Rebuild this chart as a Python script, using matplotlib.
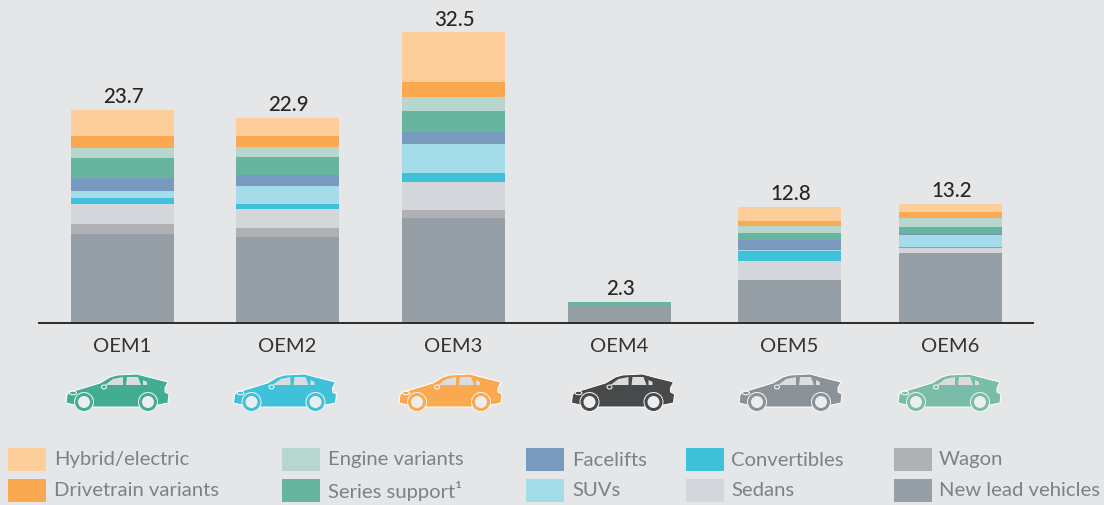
#!/usr/bin/env python3

import matplotlib
matplotlib.use("Agg")
import matplotlib.pyplot as plt
from matplotlib.patches import Rectangle, Polygon, Circle, Ellipse

W, H = 1104, 505
BG = "#E5E6E8"

oems = ["OEM1", "OEM2", "OEM3", "OEM4", "OEM5", "OEM6"]
totals = [23.7, 22.9, 32.5, 2.3, 12.8, 13.2]

# stack order, bottom to top
new_lead = [9.87, 9.53, 11.66, 1.91, 4.71, 7.74]
wagon = [1.12, 1.01, 0.90, 0, 0, 0]
sedans = [2.24, 2.24, 3.14, 0, 2.24, 0.56]
convertibles = [0.78, 0.56, 1.01, 0, 1.12, 0.11]
suvs = [0.78, 1.91, 3.25, 0, 0.11, 1.35]
facelifts = [1.46, 1.23, 1.38, 0, 1.12, 0.22]
series_support = [2.24, 2.02, 2.32, 0.39, 0.78, 0.78]
engine = [1.12, 1.23, 1.57, 0, 0.78, 0.90]
drivetrain = [1.35, 1.23, 1.68, 0, 0.56, 0.78]
hybrid = [2.90, 1.95, 5.61, 0, 1.56, 0.85]

stack = [
    (new_lead, "#979FA6"),
    (wagon, "#B0B1B4"),
    (sedans, "#D3D6DA"),
    (convertibles, "#3FC1DA"),
    (suvs, "#A5DCEA"),
    (facelifts, "#799ABF"),
    (series_support, "#67B59F"),
    (engine, "#B7D7CE"),
    (drivetrain, "#FBA950"),
    (hybrid, "#FECE9A"),
]

centers = [122.5, 287.5, 453.5, 619.5, 789.5, 950.5]
car_centers = [118, 285.5, 451, 623.5, 791, 950]
car_colors = ["#43AD94", "#3FC1DA", "#FBA950", "#48494B", "#8A9298", "#79BDA8"]

legend_items = [
    ("Hybrid/electric", "#FECE9A", 8, 448, 54),
    ("Drivetrain variants", "#FBA950", 8, 479, 54),
    ("Engine variants", "#B7D7CE", 282, 448, 328),
    ("Series support¹", "#67B59F", 282, 479, 328),
    ("Facelifts", "#799ABF", 526, 448, 572),
    ("SUVs", "#A5DCEA", 526, 479, 572),
    ("Convertibles", "#3FC1DA", 686, 448, 731),
    ("Sedans", "#D3D6DA", 686, 479, 731),
    ("Wagon", "#B0B1B4", 894, 448, 939),
    ("New lead vehicles", "#979FA6", 894, 479, 939),
]

# car outline relative to the icon centre, in pixels (y down)
car_body = [(-52, 11), (-51, 3), (-49, 0), (-41, -2), (-18, -9), (-8, -15),
            (-1, -17), (19, -18), (30, -15), (50, -10), (47, -4), (47, 0),
            (51, 2), (50, 11), (30, 15), (-18, 15), (-35, 15)]
car_windows = [
    [(-13, -7), (-5, -13), (5, -15), (5, -7)],
    [(9, -15), (20, -15), (23, -7), (8, -7)],
    [(25, -12), (29, -10), (29, -7), (25, -7)],
]


def draw_car(ax, cx, cy, color):
    ax.add_patch(Polygon([(cx + x, cy + y) for x, y in car_body], closed=True,
                         fc=color, ec="white", lw=0.7, zorder=3))
    for win in car_windows:
        ax.add_patch(Polygon([(cx + x, cy + y) for x, y in win], closed=True,
                             fc="#DADCDE", ec="none", zorder=4))
    ax.add_patch(Ellipse((cx - 14, cy - 5), 5, 4, fc=color, ec="white", lw=0.7, zorder=5))
    ax.add_patch(Ellipse((cx - 45, cy + 1), 7, 3.5, fc=color, ec="white", lw=0.7, zorder=5))
    for dx in (-34, 30):
        ax.add_patch(Circle((cx + dx, cy + 10), 10, fc="#F2F3F4", ec="none", zorder=4))
        ax.add_patch(Circle((cx + dx, cy + 10), 9, fc=color, ec="none", zorder=5))
        ax.add_patch(Circle((cx + dx, cy + 10), 6, fc="#ECEDEE", ec="none", zorder=6))


def main():
    plt.rcParams["font.family"] = ["Lato", "DejaVu Sans"]
    fig = plt.figure(figsize=(W / 100, H / 100), dpi=100, facecolor=BG)

    # chart axes: x in picture pixels, y in value units
    ax = fig.add_axes([39 / W, (H - 322.5) / H, (1033 - 39) / W, 322.5 / H])
    ax.set_facecolor("none")
    ax.set_xlim(39, 1033)
    ax.set_ylim(0, 322.5 / 8.92)
    for side in ("top", "left", "right"):
        ax.spines[side].set_visible(False)
    ax.spines["bottom"].set_color("#2B2B2B")
    ax.spines["bottom"].set_linewidth(1.4)
    ax.set_yticks([])
    ax.set_xticks(centers)
    ax.set_xticklabels(oems, fontsize=14.5, color="#333333")
    ax.tick_params(axis="x", length=0, pad=11)

    bottoms = [0.0] * len(oems)
    for values, color in stack:
        ax.bar(centers, values, width=103, bottom=bottoms, color=color, lw=0)
        bottoms = [b + v for b, v in zip(bottoms, values)]

    for x, top, total in zip(centers, bottoms, totals):
        ax.text(x + 1, top + 0.3, "{0:.1f}".format(total), ha="center", va="bottom",
                fontsize=14.8, color="#262626", fontweight="medium")

    # overlay in picture pixels for the icons and the legend
    over = fig.add_axes([0, 0, 1, 1])
    over.set_xlim(0, W)
    over.set_ylim(H, 0)
    over.axis("off")
    over.patch.set_alpha(0)

    for x, color in zip(car_centers, car_colors):
        draw_car(over, x, 392, color)

    for label, color, x, y, tx in legend_items:
        over.add_patch(Rectangle((x, y), 38, 23, fc=color, ec="none"))
        over.text(tx, y + 12, label, va="center", ha="left", fontsize=14.6,
                  color="#7A8288", family=["Lato", "DejaVu Sans"])

    fig.savefig("out.png", dpi=100, facecolor=BG)
    plt.close(fig)


if __name__ == "__main__":
    main()
